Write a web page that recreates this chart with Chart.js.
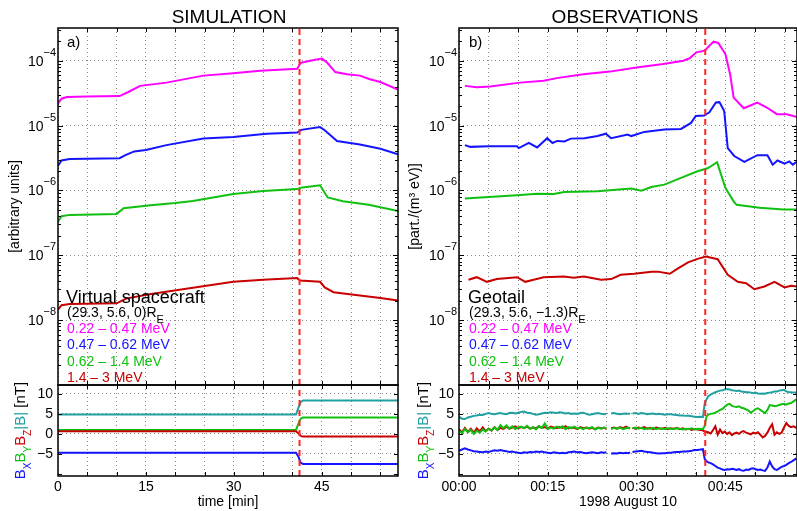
<!DOCTYPE html>
<html>
<head>
<meta charset="utf-8">
<script src="https://cdn.jsdelivr.net/npm/chart.js@4.4.0/dist/chart.umd.min.js"></script>
<style>
  body { margin: 0; background: #fff; }
  #wrap { position: relative; width: 797px; height: 511px; overflow: hidden; font-family: "Liberation Sans", Arial, sans-serif; }
  canvas { position: absolute; }
  .txt { position: absolute; white-space: nowrap; line-height: 1; color: #000; }
  .sub { position: relative; top: 6px; font-size: 11px; }
</style>
</head>
<body>
<div id="wrap">
  <canvas id="simTop" style="left:0;top:0" width="400" height="386"></canvas>
  <canvas id="simB" style="left:0;top:365px" width="400" height="146"></canvas>
  <canvas id="obsTop" style="left:400px;top:0" width="397" height="386"></canvas>
  <canvas id="obsB" style="left:400px;top:365px" width="397" height="146"></canvas>

  <div class="txt" style="left:129px;top:7px;width:200px;text-align:center;font-size:19px">SIMULATION</div>
  <div class="txt" style="left:525px;top:7px;width:200px;text-align:center;font-size:19px">OBSERVATIONS</div>
  <div class="txt" style="left:67px;top:34px;font-size:15px">a)</div>
  <div class="txt" style="left:469px;top:34px;font-size:15px">b)</div>
  <div class="txt" style="left:66px;top:288px;font-size:18px">Virtual spacecraft</div>
  <div class="txt" style="left:67px;top:305px;font-size:14px">(29.3, 5.6, 0)R<span class="sub">E</span></div>
  <div class="txt" style="left:468px;top:288px;font-size:18px">Geotail</div>
  <div class="txt" style="left:469px;top:305px;font-size:14px">(29.3, 5.6, &minus;1.3)R<span class="sub">E</span></div>
  <div id="legendSim"></div>
  <div id="legendObs"></div>
</div>

<script>
const FONT = '"Liberation Sans", Arial, sans-serif';
Chart.defaults.font.family = FONT;

// energy channels
const channels = ['0.22 \u2013 0.47 MeV', '0.47 \u2013 0.62 MeV', '0.62 \u2013 1.4 MeV', '1.4 \u2013 3 MeV'];
const chanColors = ['#ff00ff', '#1414ff', '#10c010', '#c80000'];
const tealColor = '#20a0a0';
const dashColor = '#ff2626';

// time of the dashed marker [min]
const simMarker = 41.2;
const obsMarker = 41.6;

// --- simulation fluxes (arbitrary units), t in minutes ---
const simT1 = [0, 0.6, 1.5, 5, 10.5, 12, 14, 18.5, 24.8, 29.9, 34.5, 40.8, 41.4, 43, 45, 45.9, 47.3, 49.3, 51.5, 53.2, 55, 58];
const simV1 = [2.2e-5, 2.6e-5, 2.75e-5, 2.8e-5, 2.85e-5, 3.3e-5, 4.1e-5, 4.6e-5, 5.9e-5, 6.4e-5, 7.0e-5, 7.5e-5, 9.3e-5, 1.0e-4, 1.08e-4, 9.4e-5, 6.7e-5, 6.2e-5, 5.9e-5, 5.2e-5, 4.7e-5, 3.6e-5];
const simT2 = [0, 0.6, 2, 10.5, 11.5, 13, 15, 18.5, 24.8, 29.9, 35.6, 40.8, 41.5, 44.7, 45.5, 47.6, 51.5, 55, 58];
const simV2 = [2.4e-6, 2.9e-6, 3.05e-6, 3.15e-6, 3.5e-6, 4.0e-6, 4.2e-6, 5.0e-6, 6.3e-6, 6.7e-6, 7.5e-6, 7.8e-6, 8.6e-6, 9.5e-6, 8.5e-6, 5.8e-6, 5.1e-6, 4.4e-6, 3.6e-6];
const simT3 = [0, 0.6, 2, 10, 11.2, 15.8, 20, 23, 29.9, 35, 40.8, 41.4, 44.7, 46, 48.6, 53, 58];
const simV3 = [3.3e-7, 4.0e-7, 4.2e-7, 4.35e-7, 5.3e-7, 5.9e-7, 6.4e-7, 6.9e-7, 8.8e-7, 9.8e-7, 1.05e-6, 1.1e-6, 1.2e-6, 7.8e-7, 6.8e-7, 6.0e-7, 4.8e-7];
const simT4 = [0, 0.6, 2, 10, 11.6, 15.6, 21.3, 29.9, 35, 40.8, 41.3, 44.7, 45.5, 47, 51.5, 55, 58];
const simV4 = [1.45e-8, 1.7e-8, 1.78e-8, 1.82e-8, 2.15e-8, 2.5e-8, 3.0e-8, 3.9e-8, 4.2e-8, 4.45e-8, 4.1e-8, 3.9e-8, 3.2e-8, 2.7e-8, 2.4e-8, 2.2e-8, 2.0e-8];

// --- simulation magnetic field [nT] ---
const simBTime = [0, 40.6, 41.0, 41.4, 41.8, 58];
const simBx = [-4.67, -4.67, -5.6, -7.2, -7.5, -7.5];
const simBy = [1.0, 1.0, 2.5, 3.8, 4.08, 4.08];
const simBz = [0.67, 0.67, 0.2, -0.5, -0.67, -0.67];
const simBt = [4.83, 4.83, 6.5, 8.0, 8.33, 8.33];

// --- Geotail fluxes [part./(m^3 eV)], t in minutes after 00:00 ---
const obsT1 = [1.0, 3.0, 5.3, 10.3, 14.3, 16.5, 21, 25.5, 30, 34.5, 37.9, 39, 40.1, 41.5, 43, 43.8, 45, 45.8, 46.4, 48.1, 50.4, 52, 53.7, 55.4, 57.1];
const obsV1 = [4.1e-5, 3.9e-5, 4.0e-5, 4.6e-5, 4.9e-5, 5.4e-5, 6.2e-5, 6.8e-5, 7.9e-5, 8.9e-5, 1.0e-4, 1.1e-4, 1.35e-4, 1.43e-4, 1.97e-4, 1.88e-4, 1.27e-4, 6.2e-5, 2.7e-5, 1.85e-5, 2.27e-5, 1.9e-5, 1.5e-5, 1.5e-5, 1.36e-5];
const obsT2 = [1.0, 1.9, 5, 9.8, 10.1, 11.8, 13.2, 14.9, 15.8, 16.6, 17.8, 18.9, 21.2, 23.4, 24.8, 25.7, 28.5, 29.1, 31.3, 34.7, 37.5, 39.2, 40.0, 41.4, 42.3, 43.4, 44.0, 44.8, 45.4, 46.5, 48.2, 50.4, 52.1, 53.0, 53.8, 55.0, 55.8, 56.4, 57.1];
const obsV2 = [5.0e-6, 4.7e-6, 4.8e-6, 4.8e-6, 4.5e-6, 5.4e-6, 4.6e-6, 6.4e-6, 5.4e-6, 5.8e-6, 5.7e-6, 6.3e-6, 6.4e-6, 6.9e-6, 7.5e-6, 6.4e-6, 7.3e-6, 6.9e-6, 8.0e-6, 8.7e-6, 8.9e-6, 1.1e-5, 1.41e-5, 1.43e-5, 1.6e-5, 2.27e-5, 2.3e-5, 1.68e-5, 4.5e-6, 3.4e-6, 2.75e-6, 3.5e-6, 3.5e-6, 2.5e-6, 2.9e-6, 2.6e-6, 2.8e-6, 2.5e-6, 2.8e-6];
const obsT3 = [1.0, 3.0, 9.8, 13.2, 16.0, 17.8, 23.4, 29.1, 30.8, 32.5, 34.7, 37.5, 40.3, 42.0, 43.6, 45.0, 46.4, 46.9, 50.8, 54.8, 57.1];
const obsV3 = [7.5e-7, 7.7e-7, 8.4e-7, 8.9e-7, 8.8e-7, 9.5e-7, 9.7e-7, 1.07e-6, 9.9e-7, 1.13e-6, 1.23e-6, 1.56e-6, 1.98e-6, 2.2e-6, 2.73e-6, 1.1e-6, 6.8e-7, 6.0e-7, 5.4e-7, 5.1e-7, 5.1e-7];
const obsT4 = [1.6, 3.0, 4.7, 6.4, 9.8, 11.2, 12.6, 14.3, 17.7, 19.4, 21.1, 24.0, 25.7, 27.3, 29.6, 32.5, 33.6, 35.6, 37.0, 38.7, 40.3, 41.7, 43.7, 45.4, 47.1, 48.5, 49.9, 51.6, 53.3, 55.0, 56.1, 57.2];
const obsV4 = [4.2e-8, 4.6e-8, 3.9e-8, 4.3e-8, 4.6e-8, 3.9e-8, 4.2e-8, 4.6e-8, 4.7e-8, 4.5e-8, 4.7e-8, 4.2e-8, 4.3e-8, 5.0e-8, 5.2e-8, 5.6e-8, 5.6e-8, 5.2e-8, 6.3e-8, 7.8e-8, 8.8e-8, 9.6e-8, 8.7e-8, 5.0e-8, 3.9e-8, 3.7e-8, 3.0e-8, 3.3e-8, 3.9e-8, 3.2e-8, 3.4e-8, 3.3e-8];

// --- Geotail magnetic field [nT] (null = data gap) ---
const obsBTime = [
  0, 0.5, 1, 1.5, 2, 2.5, 3, 3.5, 4, 4.5,
  5, 5.5, 6, 6.5, 7, 7.5, 8, 8.5, 9, 9.5,
  10, 10.5, 11, 11.5, 12, 12.5, 13, 13.5, 14, 14.5,
  15, 15.5, 16, 16.5, 17, 17.5, 18, 18.5, 19, 19.5,
  20, 20.5, 21, 21.5, 22, 22.5, 23, 23.5, 24, 24.5,
  24.9, 25.3, 25.7,
  26.2, 26.7, 27.2, 27.7, 28.2, 28.6, 28.9, 29.1,
  29.3, 29.8, 30.3, 30.8, 31.3, 31.8, 32.3, 32.8, 33.3, 33.8, 34.3, 34.8,
  35.3, 35.8, 36.3, 36.8, 37.3, 37.8, 38.3, 38.8, 39.3, 39.8, 40.3, 40.8,
  41.2, 41.5, 41.8,
  42.1, 42.5, 42.9, 43.3, 43.7, 44.1, 44.5, 44.9, 45.3, 45.7,
  46.1, 46.5, 46.9, 47.3, 47.7, 48.1, 48.5, 48.9, 49.3, 49.7,
  50.1, 50.5, 50.9, 51.3, 51.7, 52.1, 52.5, 52.9, 53.3, 53.7,
  54.1, 54.5, 54.9, 55.3, 55.7, 56.1, 56.5,
  57
];
const obsBt = [
  4.3, 3.8, 3.7, 4.1, 4.3, 4.5, 4.6, 4.8, 4.7, 5.0,
  5.2, 5.0, 4.9, 5.1, 5.2, 5.0, 4.9, 5.2, 5.3, 5.1,
  5.3, 5.5, 5.6, 5.3, 5.2, 5.0, 4.8, 4.9, 5.1, 5.3,
  5.2, 5.4, 5.3, 5.2, 5.4, 5.3, 5.1, 5.2, 5.0, 5.1,
  5.0, 5.2, 5.3, 5.0, 4.8, 4.9, 5.1, 5.2, 5.0, 4.9,
  5.0, null, 5.1,
  5.2, 5.0, 4.9, 5.0, 5.1, 5.0, 5.0, null,
  5.1, 5.2, 5.0, 5.2, 5.1, 4.9, 5.0, 5.1, 4.9, 5.0, 4.9, 4.8,
  4.9, 4.9, 4.8, 4.7, 4.6, 4.6, 4.5, 4.5, 4.4, 4.3, 4.2, 4.3,
  4.2, 7.5, 8.6,
  9.4, 9.8, 10.1, 10.4, 10.6, 10.8, 10.9, 11.1, 11.2, 11.1,
  10.9, 10.8, 10.7, 10.8, 10.6, 10.5, 10.4, 10.4, 10.3, 10.2,
  10.3, 10.1, 10.0, 10.1, 10.0, 10.2, 10.3, 10.4, 10.6, 10.6,
  10.8, 10.9, 11.0, 10.6, 10.4, 10.4, 10.3,
  10.3
];
const obsBy = [
  0.8, 0.2, 1.2, 0.4, 1.0, 0.0, 0.8, 0.3, 1.1, 0.6,
  1.3, 0.9, 1.6, 1.0, 2.2, 1.4, 2.1, 1.3, 1.9, 1.2,
  1.6, 1.8, 1.4, 2.0, 1.3, 1.7, 1.1, 1.9, 1.5, 2.6,
  1.2, 1.6, 1.3, 1.8, 1.5, 1.9, 1.2, 1.7, 1.4, 1.8,
  1.3, 1.5, 1.2, 1.6, 1.4, 1.7, 1.1, 1.5, 1.3, 1.6,
  1.4, null, 1.2,
  1.5, 1.3, 1.6, 1.2, 1.4, 1.5, 1.3, null,
  1.4, 1.6, 1.3, 1.5, 1.2, 1.4, 1.3, 1.5, 1.2, 1.4, 1.3, 1.2,
  1.4, 1.3, 1.2, 1.4, 1.3, 1.1, 1.3, 1.2, 1.4, 1.1, 1.3, 1.2,
  1.2, 2.0, 4.3,
  4.8, 5.0, 5.1, 5.3, 5.6, 6.0, 6.2, 6.8, 7.3, 7.5,
  7.0, 6.8, 6.7, 6.9, 6.5, 6.4, 6.1, 5.8, 5.3, 5.7,
  6.2, 6.4, 6.0, 5.6, 5.2, 6.0, 7.2, 7.1, 6.9, 7.0,
  7.2, 7.4, 7.5, 7.3, 7.6, 7.7, 8.1,
  8.6
];
const obsBz = [
  1.2, 0.4, 1.5, 0.5, 1.3, 0.3, 1.4, 0.6, 1.6, 0.7,
  1.3, 0.8, 1.7, 1.0, 1.5, 1.2, 1.8, 1.3, 1.6, 1.9,
  1.4, 1.7, 1.5, 1.8, 1.3, 1.6, 1.4, 1.9, 1.5, 1.7,
  1.3, 1.8, 1.6, 1.4, 1.7, 1.5, 1.9, 1.4, 1.6, 1.5,
  1.2, 1.7, 1.4, 1.6, 1.3, 1.5, 1.2, 1.6, 1.4, 1.5,
  1.3, null, 1.4,
  1.6, 1.3, 1.7, 1.4, 1.8, 1.5, 1.4, null,
  1.5, 1.3, 1.6, 1.4, 1.7, 1.3, 1.5, 1.2, 1.6, 1.4, 1.3, 1.5,
  1.2, 1.4, 1.3, 1.5, 1.2, 1.4, 1.1, 1.3, 1.0, 1.2, 1.1, 1.0,
  0.9, 0.6, 0.5,
  0.4, 0.1, 0.9, 1.9, -0.2, 1.1, 0.2, 0.6, 0.0, 0.4,
  -0.3, 0.1, 0.3, 0.0, 0.5, 0.7, 0.3, 0.1, -0.1, 0.3,
  0.1, 0.4, -0.2, -0.9, -0.5, 0.3, 1.5, 2.4, -0.2, 0.4,
  0.0, 0.3, 1.6, 2.7, 2.0, 1.7, 1.9,
  1.5
];
const obsBx = [
  -4.2, -3.9, -3.6, -3.9, -4.1, -4.3, -4.4, -4.5, -4.6, -4.4,
  -4.5, -4.3, -4.1, -4.2, -4.0, -4.2, -4.3, -4.5, -4.4, -4.6,
  -4.7, -4.8, -4.6, -4.7, -4.5, -4.6, -4.4, -4.5, -4.4, -4.6,
  -4.7, -4.8, -4.6, -4.7, -4.8, -4.7, -4.8, -4.6, -4.5, -4.4,
  -4.6, -4.5, -4.7, -4.8, -4.7, -4.6, -4.7, -4.8, -4.6, -4.7,
  -4.6, null, -4.9,
  -4.8, -4.9, -4.7, -4.8, -4.7, -4.8, -4.6, null,
  -4.5, -4.4, -4.3, -4.2, -4.4, -4.5, -4.6, -4.7, -4.8, -4.9, -4.8, -4.8,
  -4.7, -4.7, -4.6, -4.5, -4.5, -4.4, -4.4, -4.3, -4.2, -4.0, -4.0, -3.9,
  -3.8, -6.2, -6.8,
  -7.1, -7.3, -7.6, -8.0, -8.4, -8.6, -8.9, -9.0, -8.8, -8.9,
  -8.7, -8.8, -9.0, -8.8, -9.1, -9.2, -8.9, -9.0, -8.7, -8.6,
  -8.8, -9.0, -8.9, -9.1, -9.2, -8.4, -6.9, -8.1, -8.8, -9.0,
  -8.6, -8.2, -8.0, -7.7, -7.3, -7.0, -6.6,
  -6.1
];

// axis ranges
const simXMax = 58;
const obsXMax = 57.1;
const fluxMin = 1e-9, fluxMax = 3.2e-4;
const bMin = -10.5, bMax = 12.2;

function pts(t, v) {
    return t.map((x, i) => ({ x: x, y: v[i] }));
}

function line(t, v, color) {
    return { data: pts(t, v), borderColor: color, borderWidth: 2, pointRadius: 0, tension: 0 };
}

function marker(x, lo, hi) {
    return { data: [{ x: x, y: lo }, { x: x, y: hi }], borderColor: dashColor, borderWidth: 2, borderDash: [6, 4], pointRadius: 0 };
}

// frame, inward ticks, log labels and the coloured B title
const panelDecor = {
    id: 'panelDecor',
    afterDraw(chart, args, opts) {
        const { ctx, chartArea: a } = chart;
        const xs = chart.scales.x, ys = chart.scales.y;
        ctx.save();
        ctx.strokeStyle = '#000';
        ctx.lineWidth = 1;
        ctx.beginPath();
        for (let v = 5; v < xs.max; v += 5) {
            const px = Math.round(xs.getPixelForValue(v)) + 0.5;
            ctx.moveTo(px, a.bottom); ctx.lineTo(px, a.bottom - 4);
            ctx.moveTo(px, a.top); ctx.lineTo(px, a.top + 4);
        }
        if (ys.type === 'logarithmic') {
            for (let e = -9; e <= -4; e++) {
                for (let m = 1; m <= 9; m++) {
                    const v = m * Math.pow(10, e);
                    if (v <= ys.min || v >= ys.max) continue;
                    const py = Math.round(ys.getPixelForValue(v)) + 0.5;
                    const len = m === 1 ? 5 : 3;
                    ctx.moveTo(a.left, py); ctx.lineTo(a.left + len, py);
                    ctx.moveTo(a.right, py); ctx.lineTo(a.right - len, py);
                }
            }
        } else {
            for (let v = -10; v <= 10; v += 5) {
                const py = Math.round(ys.getPixelForValue(v)) + 0.5;
                ctx.moveTo(a.left, py); ctx.lineTo(a.left + 4, py);
                ctx.moveTo(a.right, py); ctx.lineTo(a.right - 4, py);
            }
        }
        ctx.stroke();
        ctx.lineWidth = 1.5;
        ctx.strokeRect(a.left, a.top, a.right - a.left, a.bottom - a.top);

        if (opts.logLabels) {
            ctx.fillStyle = '#000';
            ctx.textBaseline = 'alphabetic';
            for (let e = -8; e <= -4; e++) {
                const py = ys.getPixelForValue(Math.pow(10, e));
                const exp = '\u2212' + Math.abs(e);
                ctx.font = '11px ' + FONT;
                const ew = ctx.measureText(exp).width;
                ctx.textAlign = 'left';
                ctx.fillText(exp, a.left - 2 - ew, py - 5);
                ctx.font = '14px ' + FONT;
                ctx.textAlign = 'right';
                ctx.fillText('10', a.left - 2 - ew, py + 5);
            }
        }

        if (opts.bTitleX != null) {
            const parts = [['B', chanColors[1]], ['X', chanColors[1], true], ['B', chanColors[2]], ['Y', chanColors[2], true],
                           ['B', chanColors[3]], ['Z', chanColors[3], true], ['|B|', tealColor], [' [nT]', '#000']];
            const fontFor = sub => (sub ? '10px ' : '15px ') + FONT;
            let total = 0;
            parts.forEach(p => { ctx.font = fontFor(p[2]); total += ctx.measureText(p[0]).width; });
            ctx.translate(opts.bTitleX, (a.top + a.bottom) / 2);
            ctx.rotate(-Math.PI / 2);
            ctx.textAlign = 'left';
            ctx.textBaseline = 'alphabetic';
            let x = -total / 2;
            parts.forEach(p => {
                ctx.font = fontFor(p[2]);
                ctx.fillStyle = p[1];
                ctx.fillText(p[0], x, p[2] ? 6 : 0);
                x += ctx.measureText(p[0]).width;
            });
        }
        ctx.restore();
    }
};

const gridColor = '#8a8a8a';

function xScale(max, labelFn, title, showTicks) {
    return {
        type: 'linear', min: 0, max: max,
        ticks: { stepSize: 5, includeBounds: false, display: showTicks, autoSkip: false, maxRotation: 0, padding: 3,
                 color: '#000', font: { size: 14 }, callback: labelFn },
        grid: { color: gridColor, lineWidth: 1, drawTicks: false },
        border: { display: false, dash: [1, 3] },
        title: { display: !!title, text: title, color: '#000', font: { size: 14 }, padding: { top: 0, bottom: 0 } },
        afterFit: s => { s.height = showTicks ? 35 : 0; s.paddingLeft = 0; s.paddingRight = 0; }
    };
}

function isDecade(v) {
    if (!v) return false;
    const l = Math.log10(v);
    return Math.abs(l - Math.round(l)) < 1e-6;
}

function logScale(title, w) {
    return {
        type: 'logarithmic', min: fluxMin, max: fluxMax,
        ticks: { display: false, autoSkip: false },
        grid: { drawTicks: false, lineWidth: 1,
                color: c => (c.tick && isDecade(c.tick.value) && c.tick.value > 2e-9) ? gridColor : 'rgba(0,0,0,0)' },
        border: { display: false, dash: [1, 3] },
        title: { display: true, text: title, color: '#000', font: { size: 14 }, padding: { top: 7, bottom: 0 } },
        afterFit: s => { s.width = w; s.paddingTop = 0; s.paddingBottom = 0; }
    };
}

function bScale(w) {
    return {
        type: 'linear', min: bMin, max: bMax,
        ticks: { stepSize: 5, includeBounds: false, autoSkip: false, padding: 5, color: '#000', font: { size: 14 },
                 callback: v => v === -10 ? '' : String(v).replace('-', '\u2212') },
        grid: { drawTicks: false, lineWidth: 1, color: c => (c.tick && c.tick.value === -10) ? 'rgba(0,0,0,0)' : gridColor },
        border: { display: false, dash: [1, 3] },
        afterFit: s => { s.width = w; s.paddingTop = 0; s.paddingBottom = 0; }
    };
}

function makePanel(id, datasets, padding, scales, decor) {
    return new Chart(document.getElementById(id), {
        type: 'line',
        data: { datasets: datasets },
        options: {
            responsive: false,
            animation: false,
            layout: { padding: padding },
            plugins: { legend: { display: false }, tooltip: { enabled: false }, panelDecor: decor },
            scales: scales
        },
        plugins: [panelDecor]
    });
}

const minLabel = v => (v % 15 === 0 ? String(v) : '');
const clockLabel = v => (v % 15 === 0 ? '00:' + String(v).padStart(2, '0') : '');

makePanel('simTop', [
    marker(simMarker, fluxMin, fluxMax),
    line(simT1, simV1, chanColors[0]),
    line(simT2, simV2, chanColors[1]),
    line(simT3, simV3, chanColors[2]),
    line(simT4, simV4, chanColors[3])
], { top: 28, right: 2, bottom: 1, left: 0 },
   { x: xScale(simXMax, minLabel, '', false), y: logScale('[arbitrary units]', 58) },
   { logLabels: true });

makePanel('simB', [
    marker(simMarker, bMin, bMax),
    line(simBTime, simBt, tealColor),
    line(simBTime, simBz, chanColors[3]),
    line(simBTime, simBy, chanColors[2]),
    line(simBTime, simBx, chanColors[1])
], { top: 20, right: 2, bottom: 0, left: 0 },
   { x: xScale(simXMax, minLabel, 'time [min]', true), y: bScale(58) },
   { bTitleX: 25 });

makePanel('obsTop', [
    marker(obsMarker, fluxMin, fluxMax),
    line(obsT1, obsV1, chanColors[0]),
    line(obsT2, obsV2, chanColors[1]),
    line(obsT3, obsV3, chanColors[2]),
    line(obsT4, obsV4, chanColors[3])
], { top: 28, right: 0, bottom: 1, left: 0 },
   { x: xScale(obsXMax, minLabel, '', false), y: logScale('[part./(m\u00b3 eV)]', 59) },
   { logLabels: true });

makePanel('obsB', [
    marker(obsMarker, bMin, bMax),
    line(obsBTime, obsBt, tealColor),
    line(obsBTime, obsBy, chanColors[2]),
    line(obsBTime, obsBz, chanColors[3]),
    line(obsBTime, obsBx, chanColors[1])
], { top: 20, right: 0, bottom: 0, left: 0 },
   { x: xScale(obsXMax, clockLabel, '1998 August 10', true), y: bScale(59) },
   { bTitleX: 28 });

// channel legends
function buildLegend(el, left) {
    const tops = [320.8, 337.4, 353.7, 370.1];
    channels.forEach((name, i) => {
        const d = document.createElement('div');
        d.className = 'txt';
        d.style.left = left + 'px';
        d.style.top = tops[i] + 'px';
        d.style.fontSize = '14px';
        d.style.color = chanColors[i];
        d.textContent = name;
        el.appendChild(d);
    });
}
buildLegend(document.getElementById('legendSim'), 67);
buildLegend(document.getElementById('legendObs'), 469);
</script>
</body>
</html>
